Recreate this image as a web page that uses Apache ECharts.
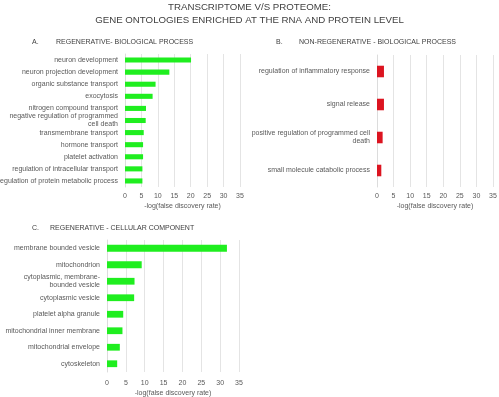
<!DOCTYPE html>
<html>
<head>
<meta charset="utf-8">
<script src="https://cdn.jsdelivr.net/npm/echarts@6/dist/echarts.min.js"></script>
<style>
  html, body { margin: 0; padding: 0; background: #fff; }
  #chart { width: 499px; height: 397px; }
</style>
</head>
<body>
<div id="chart"></div>
<script>
// A. regenerative - biological process
const regBioCategories = [
  'neuron development',
  'neuron projection development',
  'organic substance transport',
  'exocytosis',
  'nitrogen compound transport',
  'negative regulation of programmed\ncell death',
  'transmembrane transport',
  'hormone transport',
  'platelet activation',
  'regulation of intracellular transport',
  'regulation of protein metabolic process'
];
const regBioValues = [20.1, 13.5, 9.3, 8.4, 6.4, 6.3, 5.7, 5.5, 5.5, 5.3, 5.3];

// B. non-regenerative - biological process
const nonRegBioCategories = [
  'regulation of inflammatory response',
  'signal release',
  'positive regulation of programmed cell\ndeath',
  'small molecule catabolic process'
];
const nonRegBioValues = [2.1, 2.1, 1.7, 1.3];

// C. regenerative - cellular component
const regCellCategories = [
  'membrane bounded vesicle',
  'mitochondrion',
  'cytoplasmic, membrane-\nbounded vesicle',
  'cytoplasmic vesicle',
  'platelet alpha granule',
  'mitochondrial inner membrane',
  'mitochondrial envelope',
  'cytoskeleton'
];
const regCellValues = [31.8, 9.2, 7.3, 7.2, 4.3, 4.1, 3.4, 2.7];

const xTicks = [0, 5, 10, 15, 20, 25, 30, 35];
const axisName = '-log(false discovery rate)';

const font = '"Liberation Sans", sans-serif';
const textGray = '#595959';
const fs = 7;

function xAxis(gridIndex, labelMargin, nameGap) {
  return {
    type: 'value',
    gridIndex: gridIndex,
    min: xTicks[0],
    max: xTicks[xTicks.length - 1],
    interval: 5,
    name: axisName,
    nameLocation: 'center',
    nameGap: nameGap,
    nameTextStyle: {color: textGray, fontSize: fs, fontFamily: font},
    axisLine: {show: false},
    axisTick: {show: false},
    axisLabel: {color: textGray, fontSize: fs, fontFamily: font, margin: labelMargin},
    splitLine: {lineStyle: {color: '#e4e4e4', width: 1}}
  };
}

function yAxis(gridIndex, categories) {
  return {
    type: 'category',
    gridIndex: gridIndex,
    inverse: true,
    data: categories,
    axisLine: {show: true, lineStyle: {color: '#dcdcdc'}},
    axisTick: {show: false},
    axisLabel: {color: textGray, fontSize: fs, fontFamily: font, margin: 7, lineHeight: 8, interval: 0}
  };
}

function header(letter, text, x, textX, y) {
  const style = {color: '#404040', fontSize: fs, fontWeight: 'normal', fontFamily: font};
  return [
    {text: letter, left: x, top: y, padding: 0, textStyle: style},
    {text: text, left: textX, top: y, padding: 0, textStyle: style}
  ];
}

const mainStyle = {color: '#404040', fontSize: 9.7, fontWeight: 'normal', fontFamily: font};

const chart = echarts.init(document.getElementById('chart'));

chart.setOption({
  animation: false,
  title: [
    {text: 'TRANSCRIPTOME V/S PROTEOME:', left: 'center', top: 2, padding: 0, textStyle: mainStyle},
    {text: 'GENE ONTOLOGIES ENRICHED AT THE RNA AND PROTEIN LEVEL', left: 'center', top: 15, padding: 0, textStyle: mainStyle}
  ].concat(
    header('A.', 'REGENERATIVE- BIOLOGICAL PROCESS', 32, 56, 39),
    header('B.', 'NON-REGENERATIVE - BIOLOGICAL PROCESS', 276, 299, 39),
    header('C.', 'REGENERATIVE - CELLULAR COMPONENT', 32, 50, 225)
  ),
  grid: [
    {left: 125, right: 259, top: 54, height: 133, outerBoundsMode: 'none'},
    {left: 377, right: 6, top: 55, height: 132, outerBoundsMode: 'none'},
    {left: 107, right: 260, top: 240, height: 132, outerBoundsMode: 'none'}
  ],
  xAxis: [xAxis(0, 6, 16), xAxis(1, 6, 16), xAxis(2, 8, 18)],
  yAxis: [
    yAxis(0, regBioCategories),
    yAxis(1, nonRegBioCategories),
    yAxis(2, regCellCategories)
  ],
  series: [
    {
      type: 'bar',
      xAxisIndex: 0,
      yAxisIndex: 0,
      data: regBioValues,
      barWidth: '42%',
      itemStyle: {color: '#1fee1f'}
    },
    {
      type: 'bar',
      xAxisIndex: 1,
      yAxisIndex: 1,
      data: nonRegBioValues,
      barWidth: '35%',
      itemStyle: {color: '#dc1420'}
    },
    {
      type: 'bar',
      xAxisIndex: 2,
      yAxisIndex: 2,
      data: regCellValues,
      barWidth: '41%',
      itemStyle: {color: '#1fee1f'}
    }
  ]
});
</script>
</body>
</html>
